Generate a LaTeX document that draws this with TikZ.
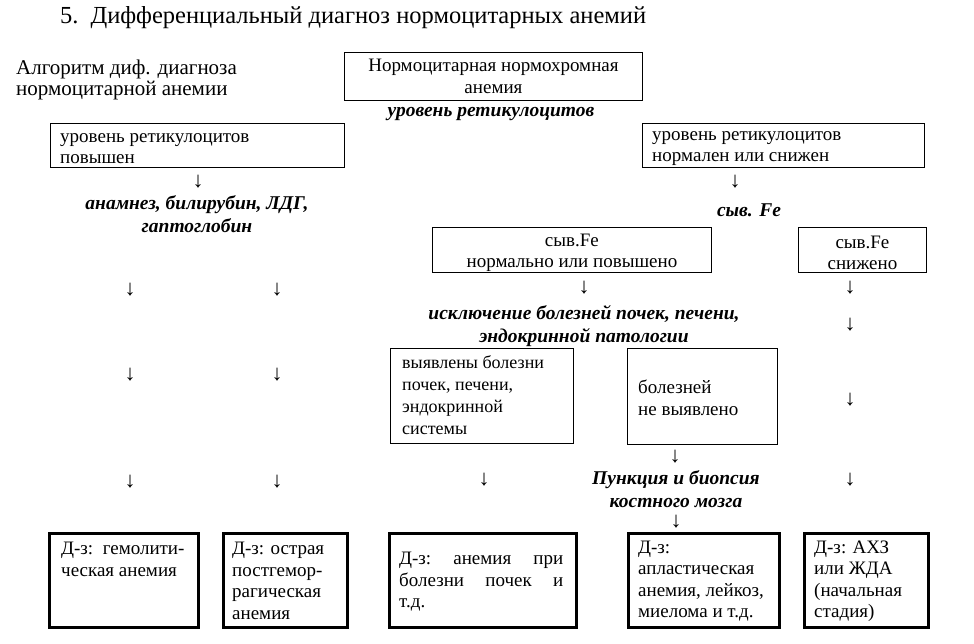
\documentclass[tikz,border=0pt]{standalone}
\usepackage{fontspec}
\setmainfont{LiberationSerif}[Extension=.ttf, UprightFont=*-Regular, BoldFont=*-Bold, ItalicFont=*-Italic, BoldItalicFont=*-BoldItalic]
\begin{document}
\begin{tikzpicture}[x=1pt,y=-1pt,
  box/.style={draw, line width=0.9pt, inner sep=0pt, anchor=north west},
  dbox/.style={draw, line width=3.4pt, inner sep=0pt, anchor=north west},
  txt/.style={inner sep=0pt, font=\fontsize{19}{21.5}\selectfont, align=left},
  ctxt/.style={inner sep=0pt, font=\fontsize{19}{21.5}\selectfont, align=center},
  lab/.style={inner sep=0pt, font=\fontsize{19.5}{23}\selectfont\bfseries\itshape, align=center},
  arr/.style={inner sep=0pt, font=\fontsize{22}{22}\selectfont}
]
\useasboundingbox (0,0) rectangle (974,644);
\fill[white] (0,0) rectangle (974,644);

% title and caption
\node[inner sep=0pt, anchor=west, font=\fontsize{24.5}{26}\selectfont] (title) at (60,18) {5.\hspace{12pt}Дифференциальный диагноз нормоцитарных анемий};
\node[inner sep=0pt, anchor=west, align=left, font=\fontsize{21}{21.5}\selectfont] (caption) at (16,80) {Алгоритм диф. диагноза\\нормоцитарной анемии};

% boxes
\node[box, minimum width=298pt, minimum height=48pt] (top) at (344,52) {};
\node[ctxt] (topT) at (top.center) {Нормоцитарная нормохромная\\анемия};
\node[lab] (l1) at (491,114) {уровень ретикулоцитов};

\node[box, minimum width=294pt, minimum height=44pt] (lb) at (50,123) {};
\node[txt, anchor=west] (lbT) at (60,148.5) {уровень ретикулоцитов\\повышен};
\node[box, minimum width=282pt, minimum height=44pt] (rb) at (642,123) {};
\node[txt, anchor=west] (rbT) at (652,148.5) {уровень ретикулоцитов\\нормален или снижен};

\node[arr] (a1) at (198,182) {↓};
\node[arr] (a2) at (735,182) {↓};
\node[lab] (l2) at (197,214) {анамнез, билирубин, ЛДГ,\\гаптоглобин};
\node[lab] (l3) at (749,210) {сыв. Fe};

\node[box, minimum width=279pt, minimum height=45pt] (fe1) at (432,227) {};
\node[ctxt] (fe1T) at ([yshift=-3pt]fe1.center) {сыв.Fe\\нормально или повышено};
\node[box, minimum width=128pt, minimum height=45pt] (fe2) at (798,227) {};
\node[ctxt] (fe2T) at ([yshift=-3pt]fe2.center) {сыв.Fe\\снижено};

\node[arr] (a3) at (130,290) {↓};
\node[arr] (a4) at (277,290) {↓};
\node[arr] (a5) at (584,288) {↓};
\node[arr] (a6) at (850,288) {↓};
\node[lab] (l4) at (584,326) {исключение болезней почек, печени,\\эндокринной патологии};
\node[arr] (a7) at (850,325) {↓};

\node[box, minimum width=183pt, minimum height=95pt] (vy) at (390,348) {};
\node[txt, anchor=west, font=\fontsize{18}{21.8}\selectfont] (vyT) at (402,395) {выявлены болезни\\почек, печени,\\эндокринной\\системы};
\node[box, minimum width=150pt, minimum height=96pt] (nv) at (627,348) {};
\node[txt, anchor=west] (nvT) at (638,398) {болезней\\не выявлено};

\node[arr] (a8) at (130,375) {↓};
\node[arr] (a9) at (277,375) {↓};
\node[arr] (a10) at (850,400) {↓};
\node[arr] (a11) at (675,457) {↓};

\node[arr] (a12) at (130,482) {↓};
\node[arr] (a13) at (277,482) {↓};
\node[arr] (a14) at (484,480) {↓};
\node[arr] (a15) at (850,480) {↓};
\node[lab] (l5) at (676,489) {Пункция и биопсия\\костного мозга};
\node[arr] (a16) at (676,522) {↓};

% diagnosis boxes
\node[dbox, minimum width=149pt, minimum height=94pt] (d1) at (48,532) {};
\node[txt, anchor=north west] (d1T) at (61,542) {Д-з:\ \ гемолити-\\ческая анемия};
\node[dbox, minimum width=124pt, minimum height=94pt] (d2) at (222,532) {};
\node[txt, anchor=west] (d2T) at (232,581) {Д-з: острая\\постгемор-\\рагическая\\анемия};
\node[dbox, minimum width=187pt, minimum height=94pt] (d3) at (388,532) {};
\node[txt, anchor=west] (d3T) at (399,582) {\hbox to 164pt{Д-з:\hfil анемия\hfil при}\\\hbox to 164pt{болезни\hfil почек\hfil и}\\т.д.};
\node[dbox, minimum width=151pt, minimum height=94pt] (d4) at (627,532) {};
\node[txt, anchor=west] (d4T) at (638,581) {Д-з:\\апластическая\\анемия, лейкоз,\\миелома и т.д.};
\node[dbox, minimum width=124pt, minimum height=94pt] (d5) at (803,532) {};
\node[txt, anchor=west] (d5T) at (814,581) {Д-з: АХЗ\\или ЖДА\\(начальная\\стадия)};
\end{tikzpicture}
\end{document}
